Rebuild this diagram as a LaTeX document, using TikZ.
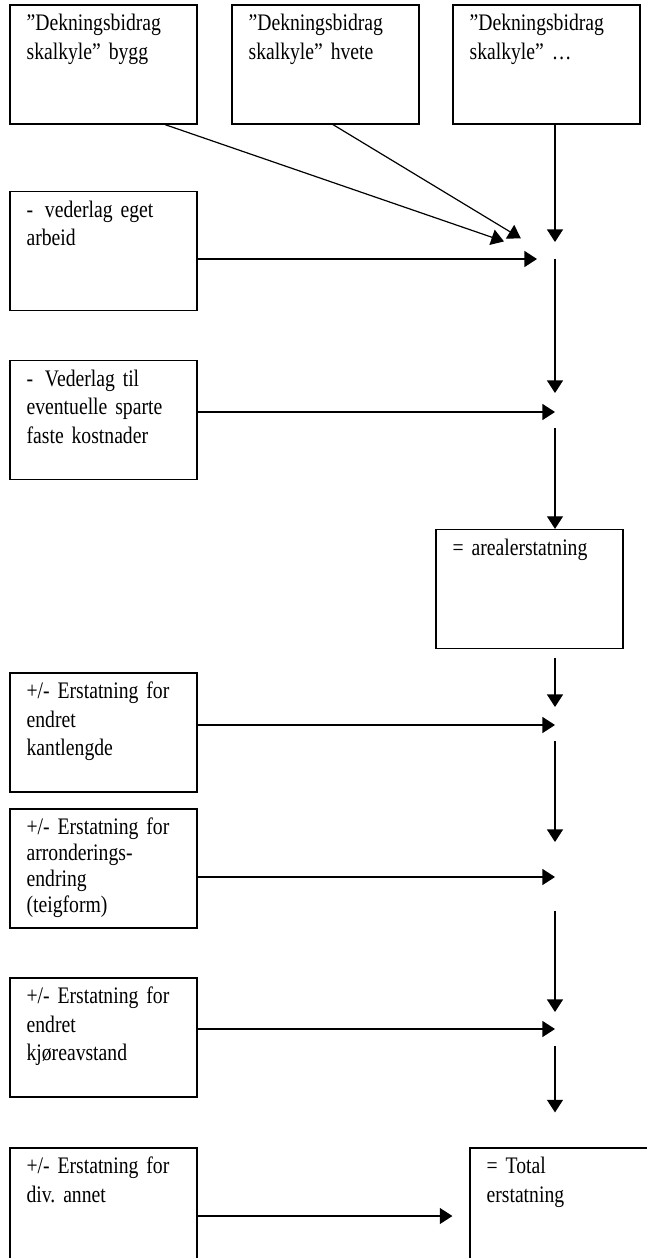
\documentclass[tikz,border=0pt]{standalone}
\usepackage{fontspec}
\setmainfont{Liberation Serif}[FakeStretch=0.83]
\usetikzlibrary{arrows.meta}
\newcommand\boxfont[1]{\fontsize{11.85}{#1}\selectfont\spaceskip=2pt\relax}

\begin{document}
\frenchspacing
\begin{tikzpicture}[
    x=0.5pt, y=-0.5pt,
    font=\boxfont{14.3},
    box/.style={draw, line width=0.6pt, inner xsep=8.3pt, inner ysep=0pt,
        text width=76.9pt, align=left, text height=12.85pt, text depth=46.65pt},
    tallbox/.style={box, text depth=55.15pt},
    arr/.style={-{Triangle[length=6.3pt, width=8pt]}, line width=0.6pt},
]
    \path[use as bounding box, clip] (0,0) rectangle (647,1258);

    % ============= Top row: calculations per crop =============
    \node[box] (bygg) at (103.5, 64.5) {”Dekningsbidrag\\skalkyle” bygg};
    \node[box] (hvete) at (325.5, 64.5) {”Dekningsbidrag\\skalkyle” hvete};
    \node[box] (andre) at (546.5, 64.5) {”Dekningsbidrag\\skalkyle” …};

    % ============= Deductions =============
    \node[box] (arbeid) at (103.5, 251) {-\enspace vederlag eget\\arbeid};
    \node[box] (faste) at (103.5, 420) {-\enspace Vederlag til\\eventuelle sparte\\faste kostnader};
    \node[box] (areal) at (529.5, 589) {= arealerstatning};

    % ============= Corrections =============
    \node[box] (kant) at (103.5, 732.5) {+/- Erstatning for\\endret\\kantlengde};
    \node[box, font=\boxfont{13}] (arrond) at (103.5, 868.5) {+/- Erstatning for\\arronderings-\\endring\\(teigform)};
    \node[box] (kjore) at (103.5, 1037.5) {+/- Erstatning for\\endret\\kjøreavstand};
    \node[tallbox] (annet) at (103.5, 1216) {+/- Erstatning for\\div. annet};
    \node[tallbox] (total) at (563.5, 1216) {= Total\\erstatning};

    % junctions on the main line
    \coordinate (j1) at (555, 259);
    \coordinate (j2) at (555, 412);
    \coordinate (j3) at (555, 725);
    \coordinate (j4) at (555, 877);
    \coordinate (j5) at (555, 1029);

    % ============= Connectors =============
    \draw[arr, shorten >=27pt] ([xshift=30.75pt]bygg.south) -- (j1);
    \draw[arr, shorten >=20pt] ([xshift=3.75pt]hvete.south) -- (j1);
    \draw[arr, shorten >=8.5pt] (andre.south -| j1) -- (j1);
    \draw[arr, shorten >=9pt] (arbeid.east |- j1) -- (j1);
    \draw[arr, shorten >=9.5pt] (j1) -- (j2);
    \draw[arr] (faste.east |- j2) -- (j2);
    \draw[arr, shorten <=8pt] (j2) -- (areal.north -| j2);
    \draw[arr, shorten <=4.5pt, shorten >=9pt] (areal.south -| j3) -- (j3);
    \draw[arr] (kant.east |- j3) -- (j3);
    \draw[arr, shorten <=8pt, shorten >=17.5pt] (j3) -- (j4);
    \draw[arr] (arrond.east |- j4) -- (j4);
    \draw[arr, shorten <=17pt, shorten >=8.5pt] (j4) -- (j5);
    \draw[arr] (kjore.east |- j5) -- (j5);
    \draw[arr, shorten <=8.5pt, shorten >=17.5pt] (j5) -- (total.north -| j5);
    \draw[arr, shorten >=8.5pt] (annet) -- (total);
\end{tikzpicture}
\end{document}
